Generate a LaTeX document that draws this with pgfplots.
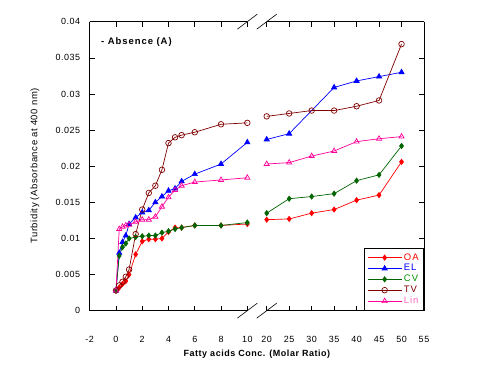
\documentclass[border=0pt]{standalone}
\usepackage{fontspec}
\setmainfont{Liberation Sans}
\usepackage{pgfplots}
\pgfplotsset{compat=1.18}
\definecolor{oa}{RGB}{255,0,0}
\definecolor{el}{RGB}{0,0,255}
\definecolor{cv}{RGB}{0,100,0}
\definecolor{tv}{RGB}{128,0,0}
\definecolor{lin}{RGB}{255,0,153}
\pgfplotsset{
  every non boxed x axis/.style={},
  every non boxed y axis/.style={},
  brk/.style={
    scale only axis, height=289bp, ymin=0, ymax=0.04,
    ytick={0,0.005,0.01,0.015,0.02,0.025,0.03,0.035,0.04},
    scaled y ticks=false, scaled x ticks=false,
    tick align=inside, major tick length=5bp,
    axis line style={-, black, line width=0.9bp},
    tick style={black, line width=0.6bp},
    font=\fontsize{9}{10}\selectfont\addfontfeature{LetterSpace=6},
    /pgf/number format/assume math mode=true,
    xticklabel style={yshift=-22bp},
    clip=false,
  },
  soa/.style={oa, line width=0.7bp, mark=diamond*, mark size=2.6bp, mark options={fill=oa, solid}},
  sel/.style={el, line width=0.7bp, mark=triangle*, mark size=3bp, mark options={fill=el, solid}},
  scv/.style={cv, line width=0.7bp, mark=diamond*, mark size=2.6bp, mark options={fill=cv, solid}},
  stv/.style={tv, line width=0.7bp, mark=o, mark size=2.8bp, mark options={fill=white, solid}},
  slin/.style={lin, line width=0.7bp, mark=triangle, mark size=3bp, mark options={fill=white, solid}},
}
\begin{document}
\begin{tikzpicture}
\useasboundingbox (0,0) rectangle (482bp,369bp);
% left part
\begin{axis}[brk, at={(89.7bp,58.3bp)}, anchor=south west, width=157.6bp,
  xmin=-2, xmax=10, xtick={-2,0,2,4,6,8,10}, xticklabels={-2,0,2,4,6,8,10},
  axis x line=box, axis y line=left, xtick pos=both, xticklabel pos=lower,
  yticklabels={0,0.005,0.01,0.015,0.02,0.025,0.03,0.035,0.04},
  yticklabel style={xshift=-6bp}]
\addplot[soa] coordinates {(0,0.0028)(0.25,0.0032)(0.5,0.0037)(0.75,0.0041)(1,0.0050)(1.5,0.0078)(2,0.0096)(2.5,0.0099)(3,0.0099)(3.5,0.0100)(4,0.0109)(4.5,0.0115)(5,0.0115)(6,0.0118)(8,0.0118)(10,0.0120)};
\addplot[sel] coordinates {(0,0.0028)(0.25,0.0080)(0.5,0.0095)(0.75,0.0104)(1,0.0120)(1.5,0.0129)(2,0.0136)(2.5,0.0139)(3,0.0150)(3.5,0.0158)(4,0.0166)(4.5,0.0169)(5,0.0179)(6,0.0189)(8,0.0203)(10,0.0233)};
\addplot[scv] coordinates {(0,0.0028)(0.25,0.0076)(0.5,0.0088)(0.75,0.0093)(1,0.0100)(1.5,0.0102)(2,0.0103)(2.5,0.0104)(3,0.0104)(3.5,0.0108)(4,0.0110)(4.5,0.0113)(5,0.0115)(6,0.0118)(8,0.0118)(10,0.0122)};
\addplot[stv] coordinates {(0,0.0028)(0.25,0.0035)(0.5,0.0040)(0.75,0.0047)(1,0.0057)(1.5,0.0106)(2,0.0140)(2.5,0.0163)(3,0.0173)(3.5,0.0195)(4,0.0232)(4.5,0.0240)(5,0.0243)(6,0.0247)(8,0.0258)(10,0.0260)};
\addplot[slin] coordinates {(0,0.0028)(0.25,0.0113)(0.5,0.0116)(0.75,0.0118)(1,0.0119)(1.5,0.0123)(2,0.0126)(2.5,0.0126)(3,0.0130)(3.5,0.0144)(4,0.0157)(4.5,0.0167)(5,0.0173)(6,0.0178)(8,0.0181)(10,0.0184)};
\draw[black, line width=0.6bp] ([xshift=-10bp,yshift=-7.5bp]rel axis cs:1,0) -- ++(20bp,15bp);
\draw[black, line width=0.6bp] ([xshift=-10bp,yshift=-7.5bp]rel axis cs:1,1) -- ++(20bp,15bp);
\node[anchor=west, font=\fontsize{9.5}{10}\selectfont\bfseries\addfontfeature{LetterSpace=10}] at ([xshift=8bp,yshift=-20bp]rel axis cs:0,1) {- Absence (A)};
\end{axis}
% right part
\begin{axis}[brk, at={(266.7bp,58.3bp)}, anchor=south west, width=157.3bp,
  xmin=20, xmax=55, xtick={20,25,30,35,40,45,50,55}, xticklabels={20,25,30,35,40,45,50,55},
  axis x line=box, axis y line=right, xtick pos=both, xticklabel pos=lower,
  yticklabels={},
  legend cell align=left,
  legend style={at={(rel axis cs:1,0)}, anchor=south east, draw=black, line width=0.8bp,
    font=\fontsize{9.5}{10}\selectfont\addfontfeature{LetterSpace=10}, row sep=-1.2bp, inner sep=3bp},
  legend image code/.code={\draw[#1] (0bp,0bp) -- (17bp,0bp) plot coordinates {(17bp,0bp)} -- (34bp,0bp);}]
\addplot[soa] coordinates {(20,0.0126)(25,0.0127)(30,0.0135)(35,0.0140)(40,0.0153)(45,0.0160)(50,0.0206)};
\addlegendentry{\textcolor{oa}{OA}}
\addplot[sel] coordinates {(20,0.0237)(25,0.0245)(35,0.0309)(40,0.0318)(45,0.0324)(50,0.0330)};
\addlegendentry{\textcolor{el}{EL}}
\addplot[scv] coordinates {(20,0.0135)(25,0.0155)(30,0.0158)(35,0.0162)(40,0.0180)(45,0.0188)(50,0.0228)};
\addlegendentry{\textcolor{cv!70!green}{CV}}
\addplot[stv] coordinates {(20,0.0269)(25,0.0273)(30,0.0277)(35,0.0277)(40,0.0283)(45,0.0291)(50,0.0369)};
\addlegendentry{\textcolor{tv}{TV}}
\addplot[slin] coordinates {(20,0.0203)(25,0.0205)(30,0.0214)(35,0.0221)(40,0.0234)(45,0.0238)(50,0.0241)};
\addlegendentry{\textcolor{lin!60!white}{Lin}}
\draw[black, line width=0.6bp] ([xshift=-10bp,yshift=-7.5bp]rel axis cs:0,0) -- ++(20bp,15bp);
\draw[black, line width=0.6bp] ([xshift=-10bp,yshift=-7.5bp]rel axis cs:0,1) -- ++(20bp,15bp);
\end{axis}
\node[font=\fontsize{9}{10}\selectfont\bfseries\addfontfeature{LetterSpace=6}] at (256.9bp,15bp) {Fatty acids Conc. (Molar Ratio)};
\node[rotate=90, font=\fontsize{9.5}{10}\selectfont\addfontfeature{LetterSpace=6}] at (35bp,203bp) {Turbidity (Absorbance at 400 nm)};
\end{tikzpicture}
\end{document}
